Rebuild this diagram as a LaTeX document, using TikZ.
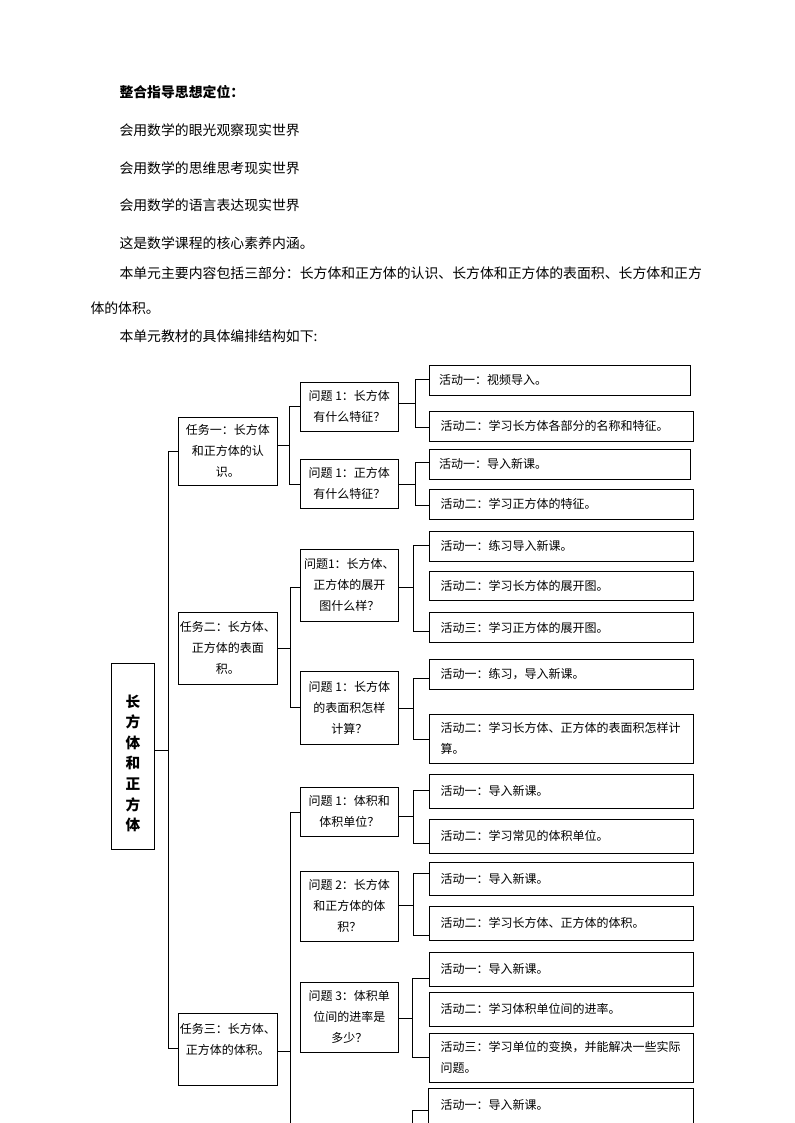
\documentclass[tikz,border=0pt]{standalone}
\usepackage{fontspec}
\setmainfont{Noto Sans CJK SC}
\newcommand\mkbox[7]{\node[#1,minimum width={(#5-#3)*0.75pt},minimum height={(#6-#4)*0.75pt}] (#2) at ({(#3+#5)/2},{(#4+#6)/2}) {#7};}
\begin{document}
\begin{tikzpicture}[x=0.75pt,y=-0.75pt,
  line width=0.75pt,
  para/.style={anchor=west,inner sep=0pt,font=\fontsize{10.4}{14}\selectfont},
  parahead/.style={para,font=\fontsize{10.4}{14}\selectfont\bfseries},
  cbox/.style={draw,inner sep=0pt,align=center,font=\fontsize{9}{15.75}\selectfont},
  abox/.style={draw,inner sep=0pt,text width=181pt,align=left,font=\fontsize{9}{15.75}\selectfont}
]
\useasboundingbox[fill=white] (0,0) rectangle (794,1123);
\clip (0,0) rectangle (794,1123);

% ---- intro text ----
\node[parahead] (h0) at (119,91.7) {整合指导思想定位：};
\node[para] (h1) at (119,130) {会用数学的眼光观察现实世界};
\node[para] (h2) at (119,168.3) {会用数学的思维思考现实世界};
\node[para] (h3) at (119,205) {会用数学的语言表达现实世界};
\node[para] (h4) at (119,243.3) {这是数学课程的核心素养内涵。};
\node[para] (h5) at (119,273.3) {本单元主要内容包括三部分：长方体和正方体的认识、长方体和正方体的表面积、长方体和正方};
\node[para] (h6) at (90,308.3) {体的体积。};
\node[para] (h7) at (119,336.7) {本单元教材的具体编排结构如下:};

% ---- root ----
\mkbox{draw,inner sep=0pt}{root}{111.7}{663.3}{154.3}{849.3}{}
\node[inner sep=0pt,align=center,font=\fontsize{11}{15.4}\selectfont\bfseries] (roottext) at (133,763.4) {长\\方\\体\\和\\正\\方\\体};

% ---- tasks ----
\mkbox{cbox}{T1}{178.3}{417}{277.3}{485}{任务一：长方体\\和正方体的认\\识。}
\mkbox{cbox}{T2}{178.3}{612.3}{277.3}{684}{任务二：长方体、\\正方体的表面\\积。}
\mkbox{cbox}{T3}{178.3}{1013.3}{277.3}{1085.3}{任务三：长方体、\\正方体的体积。\\ \mbox{}}

% ---- questions ----
\mkbox{cbox}{Q1}{300.3}{382.3}{398.3}{431.3}{问题 1：长方体\\有什么特征？}
\mkbox{cbox}{Q2}{300.3}{459.3}{398.3}{508.3}{问题 1：正方体\\有什么特征？}
\mkbox{cbox}{Q3}{300.5}{549}{398.3}{621.7}{问题1：长方体、\\正方体的展开\\图什么样？}
\mkbox{cbox}{Q4}{300.5}{671.7}{398.3}{744.3}{问题 1：长方体\\的表面积怎样\\计算？}
\mkbox{cbox}{Q5}{300.3}{787.3}{398.3}{836}{问题 1：体积和\\体积单位？}
\mkbox{cbox}{Q6}{300.3}{871}{398.3}{941}{问题 2：长方体\\和正方体的体\\积？}
\mkbox{cbox}{Q7}{300.3}{982.3}{398.3}{1052.3}{问题 3：体积单\\位间的进率是\\多少？}

% ---- activities ----
\mkbox{abox}{A1}{429.3}{365}{690.3}{395.3}{活动一：视频导入。}
\mkbox{abox}{A2}{429.3}{411}{693.3}{441.3}{活动二：学习长方体各部分的名称和特征。}
\mkbox{abox}{A3}{429.3}{449.3}{690.3}{479.3}{活动一：导入新课。}
\mkbox{abox}{A4}{429.3}{489.3}{693.3}{519.3}{活动二：学习正方体的特征。}
\mkbox{abox}{A5}{429.3}{531}{693.3}{561}{活动一：练习导入新课。}
\mkbox{abox}{A6}{429.3}{571.7}{693.3}{600.7}{活动二：学习长方体的展开图。}
\mkbox{abox}{A7}{429.3}{612.7}{693.3}{642.3}{活动三：学习正方体的展开图。}
\mkbox{abox}{A8}{429.3}{659.3}{693.3}{689.3}{活动一：练习，导入新课。}
\mkbox{abox}{A9}{429.3}{714.3}{693.3}{763.3}{活动二：学习长方体、正方体的表面积怎样计\\算。}
\mkbox{abox}{A10}{429.3}{774.3}{693.3}{808.3}{活动一：导入新课。}
\mkbox{abox}{A11}{429.3}{819.3}{693.3}{853.3}{活动二：学习常见的体积单位。}
\mkbox{abox}{A12}{429.3}{862.3}{693.3}{895}{活动一：导入新课。}
\mkbox{abox}{A13}{429.3}{906.7}{693.3}{940}{活动二：学习长方体、正方体的体积。}
\mkbox{abox}{A14}{429.3}{952.7}{693.3}{986}{活动一：导入新课。}
\mkbox{abox}{A15}{429.3}{992.3}{693.3}{1026}{活动二：学习体积单位间的进率。}
\mkbox{abox}{A16}{429.3}{1033.3}{693.3}{1082.3}{活动三：学习单位的变换，并能解决一些实际\\问题。}
\mkbox{abox,draw=none}{A17}{429.3}{1089}{693.3}{1121}{活动一：导入新课。}
\draw ([yshift=-30pt]A17.south west) |- (A17.north east) -- ([yshift=-30pt]A17.south east);

% ---- trunk ----
\coordinate (k0) at (168.3,750);
\coordinate (k1) at (168.3,451.3);
\coordinate (k2) at (168.3,1048.3);
\draw (root.east |- k0) -- (k0);
\draw (T1.west |- k1) -- (k1) -- (k2) -- (T3.west |- k2);

% ---- task -> questions ----
\coordinate (m0) at (289,445.7);
\coordinate (m1) at (289,406.7);
\coordinate (m2) at (289,484.3);
\draw (T1.east |- m0) -- (m0);
\draw (Q1.west |- m1) -- (m1) -- (m2) -- (Q2.west |- m2);

\coordinate (n0) at (290,648.3);
\coordinate (n1) at (290,587.3);
\coordinate (n2) at (290,707.7);
\draw (T2.east |- n0) -- (n0);
\draw (Q3.west |- n1) -- (n1) -- (n2) -- (Q4.west |- n2);

\coordinate (p0) at (290,1051);
\coordinate (p1) at (290,812.7);
\coordinate (p2) at (290,1140);
\draw (T3.east |- p0) -- (p0);
\draw (Q5.west |- p1) -- (p1) -- (p2);

% ---- questions -> activities ----
\coordinate (g1) at (415,403.3);
\draw (Q1.east |- g1) -- (g1);
\draw (A1.west |- 0,379.3) -| (415,427.3) -- (A2.west |- 0,427.3);

\coordinate (g2) at (415,484.3);
\draw (Q2.east |- g2) -- (g2);
\draw (A3.west |- 0,462.3) -| (415,505) -- (A4.west |- 0,505);

\coordinate (g3) at (413.3,587.3);
\draw (Q3.east |- g3) -- (g3);
\draw (A5.west |- 0,545.7) -| (413.3,631) -- (A7.west |- 0,631);

\coordinate (g4) at (413.3,708.7);
\draw (Q4.east |- g4) -- (g4);
\draw (A8.west |- 0,678.3) -| (413.3,739.3) -- (A9.west |- 0,739.3);

\coordinate (g5) at (413.3,816);
\draw (Q5.east |- g5) -- (g5);
\draw (A10.west |- 0,790.7) -| (413.3,843.3) -- (A11.west |- 0,843.3);

\coordinate (g6) at (413.3,905);
\draw (Q6.east |- g6) -- (g6);
\draw (A12.west |- 0,873.3) -| (413.3,935.7) -- (A13.west |- 0,935.7);

\coordinate (g7) at (412.5,1018.7);
\draw (Q7.east |- g7) -- (g7);
\draw (A14.west |- 0,978.3) -| (412.5,1057.3) -- (A16.west |- 0,1057.3);

\coordinate (g8) at (412.5,1140);
\draw (A17.west |- 0,1110.7) -| (g8);
\end{tikzpicture}
\end{document}
